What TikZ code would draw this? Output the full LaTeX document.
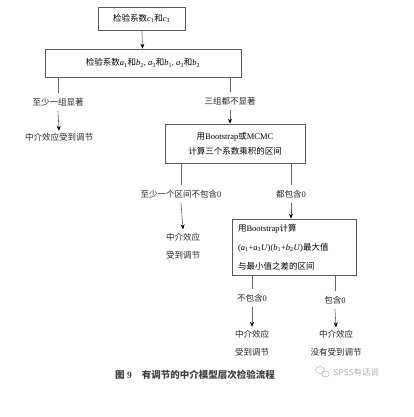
\documentclass[tikz,border=0pt]{standalone}
\usepackage{fontspec}
\setmainfont{Liberation Serif}
\newfontfamily\cjk{Noto Sans CJK SC}
\usetikzlibrary{arrows.meta}
\newcommand{\zh}[1]{{\cjk #1}}
\newcommand{\myvar}[2]{\textit{#1}\textsubscript{#2}}
\begin{document}
\begin{tikzpicture}[x=1pt,y=-1pt,
  box/.style={draw=black!65, line width=0.6pt, inner sep=0pt, font=\fontsize{8.5}{15}\selectfont},
  lab/.style={inner sep=0pt, font=\fontsize{8.5}{18}\selectfont, align=center, text=black!85},
  ln/.style={draw=black!60, line width=0.6pt},
  arr/.style={ln, -{Stealth[length=5pt,width=4pt,black]}}
]
\useasboundingbox[fill=white] (0,0) rectangle (413,417);

% boxes
\node[box, minimum width=87pt, minimum height=23pt] (b1) at (141.5,18.5) {\zh{检验系数}\myvar{c}{1}\zh{和}\myvar{c}{3}};
\node[box, minimum width=196pt, minimum height=28pt] (b2) at (143,63) {\zh{检验系数}\myvar{a}{1}\zh{和}\myvar{b}{2}, \myvar{a}{3}\zh{和}\myvar{b}{1}, \myvar{a}{3}\zh{和}\myvar{b}{2}};
\node[box, minimum width=140pt, minimum height=39pt, align=center] (b3) at (235,143.5) {\zh{用}Bootstrap\zh{或}MCMC\\\zh{计算三个系数乘积的区间}};
\node[box, minimum width=124pt, minimum height=56pt, align=left, text width=112pt, font=\fontsize{8.5}{19}\selectfont] (b4) at (294,247) {\zh{用}Bootstrap\zh{计算}\\(\myvar{a}{1}+\myvar{a}{3}\textit{U})(\myvar{b}{1}+\myvar{b}{2}\textit{U})\zh{最大值}\\\zh{与最小值之差的区间}};

% labels
\node[lab] (l1) at (58,102) {\zh{至少一组显著}};
\node[lab] (r1) at (59,137) {\zh{中介效应受到调节}};
\node[lab] (l2) at (230,101) {\zh{三组都不显著}};
\node[lab] (l3) at (181,194) {\zh{至少一个区间不包含}0};
\node[lab] (l4) at (291,194) {\zh{都包含}0};
\node[lab] (r2) at (183,246.5) {\zh{中介效应}\\\zh{受到调节}};
\node[lab] (l5) at (252,298) {\zh{不包含}0};
\node[lab] (l6) at (335,300) {\zh{包含}0};
\node[lab] (r3) at (252,343) {\zh{中介效应}\\\zh{受到调节}};
\node[lab] (r4) at (336,343.5) {\zh{中介效应}\\\zh{没有受到调节}};

% connectors
\draw[arr] (b1) -- (b2);
\draw[ln] (l1 |- b2.south) -- ([yshift=5pt]l1.north);
\draw[arr] ([yshift=-5pt]l1.south) -- ([yshift=2pt]r1.north);
\draw[ln] (l2 |- b2.south) -- ([yshift=5pt]l2.north);
\draw[arr] ([yshift=-5pt]l2.south) -- (l2 |- b3.north);
\draw[ln] (l3 |- b3.south) -- ([yshift=5pt]l3.north);
\draw[arr] ([yshift=-5pt]l3.south) -- ([yshift=4pt]r2.north);
\draw[ln] (l4 |- b3.south) -- ([yshift=5pt]l4.north);
\draw[arr] ([yshift=-5pt]l4.south) -- (l4 |- b4.north);
\draw[ln] (l5 |- b4.south) -- ([yshift=5pt]l5.north);
\draw[arr] ([yshift=-5pt]l5.south) -- ([yshift=3pt]r3.north);
\draw[ln] (l6 |- b4.south) -- ([yshift=5pt]l6.north);
\draw[arr] ([yshift=-5pt]l6.south) -- ([yshift=3pt]r4.north);

% caption
\node[font=\fontsize{9.5}{12}\selectfont\bfseries, text=black!75] (cap) at (195,375) {\zh{图}~9\hspace{10pt}\zh{有调节的中介模型层次检验流程}};
% watermark
\node[font=\fontsize{8.5}{10}\selectfont, text=black!30, anchor=west] (wm) at (330,372) {\sffamily SPSS\zh{有话说}};
\draw[black!30, line width=0.5pt] (320,370) ellipse (4.5pt and 3.5pt);
\draw[black!30, line width=0.5pt] (325.5,374) ellipse (3.8pt and 3pt);
\end{tikzpicture}
\end{document}
